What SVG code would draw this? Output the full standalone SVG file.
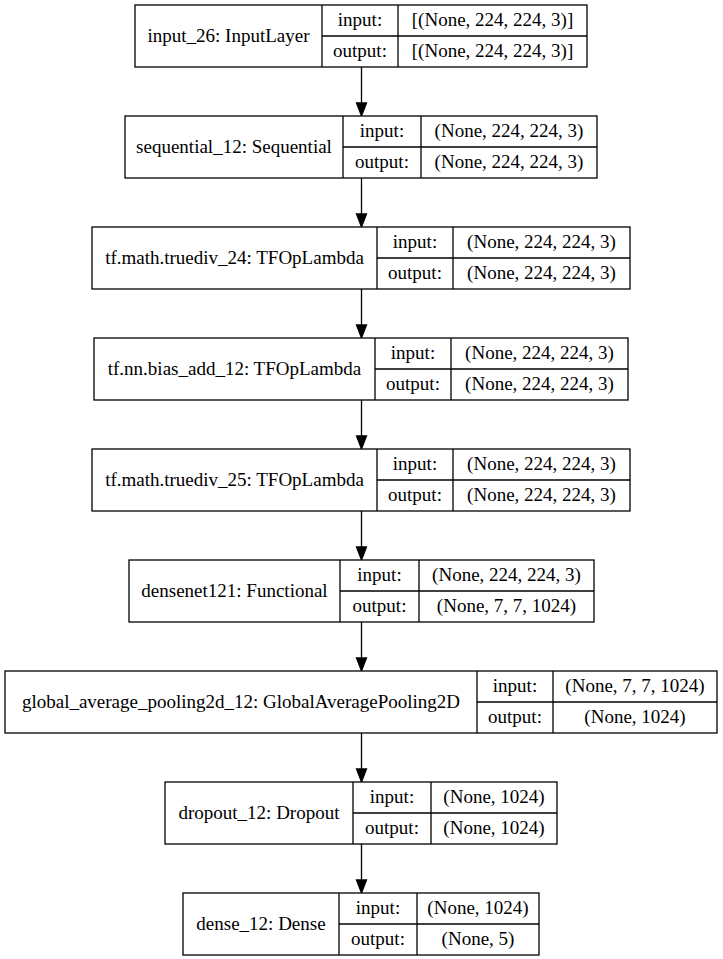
<svg xmlns="http://www.w3.org/2000/svg" width="723" height="959" viewBox="0 0 723 959">
<style>
rect{fill:#fff;stroke:#000;stroke-width:1.3}
.d{stroke:#000;stroke-width:1.3}
text{font-family:"Liberation Serif","Times New Roman",serif;font-size:19px;fill:#000;text-anchor:middle}
.e{stroke:#000;stroke-width:1.3;fill:none}
.h{fill:#000;stroke:#000;stroke-width:1.3}
</style>
<rect x="0" y="0" width="723" height="959" style="stroke:none"/>
<g id="connectors">
<line class="e" x1="361.5" y1="67" x2="361.5" y2="103"/><polygon class="h" points="356.5,103 366.5,103 361.5,116"/>
<line class="e" x1="361.5" y1="178" x2="361.5" y2="214"/><polygon class="h" points="356.5,214 366.5,214 361.5,227"/>
<line class="e" x1="361.5" y1="289" x2="361.5" y2="325"/><polygon class="h" points="356.5,325 366.5,325 361.5,338"/>
<line class="e" x1="361.5" y1="400" x2="361.5" y2="436"/><polygon class="h" points="356.5,436 366.5,436 361.5,449"/>
<line class="e" x1="361.5" y1="511" x2="361.5" y2="547"/><polygon class="h" points="356.5,547 366.5,547 361.5,560"/>
<line class="e" x1="361.5" y1="622" x2="361.5" y2="658"/><polygon class="h" points="356.5,658 366.5,658 361.5,671"/>
<line class="e" x1="361.5" y1="733" x2="361.5" y2="769"/><polygon class="h" points="356.5,769 366.5,769 361.5,782"/>
<line class="e" x1="361.5" y1="844" x2="361.5" y2="880"/><polygon class="h" points="356.5,880 366.5,880 361.5,893"/>
</g>
<g id="input_26">
<rect x="135" y="5" width="452" height="62"/>
<line class="d" x1="322" y1="5" x2="322" y2="67"/><line class="d" x1="398" y1="5" x2="398" y2="67"/><line class="d" x1="322" y1="36" x2="587" y2="36"/>
<text x="228.5" y="42">input_26: InputLayer</text>
<text x="360" y="26">input:</text><text x="360" y="57">output:</text>
<text x="492.5" y="26">[(None, 224, 224, 3)]</text><text x="492.5" y="57">[(None, 224, 224, 3)]</text>
</g>
<g id="sequential_12">
<rect x="125" y="116" width="472" height="62"/>
<line class="d" x1="343" y1="116" x2="343" y2="178"/><line class="d" x1="421" y1="116" x2="421" y2="178"/><line class="d" x1="343" y1="147" x2="597" y2="147"/>
<text x="234" y="153">sequential_12: Sequential</text>
<text x="382" y="137">input:</text><text x="382" y="168">output:</text>
<text x="509" y="137">(None, 224, 224, 3)</text><text x="509" y="168">(None, 224, 224, 3)</text>
</g>
<g id="truediv_24">
<rect x="92" y="227" width="538" height="62"/>
<line class="d" x1="377" y1="227" x2="377" y2="289"/><line class="d" x1="453" y1="227" x2="453" y2="289"/><line class="d" x1="377" y1="258" x2="630" y2="258"/>
<text x="234.5" y="264">tf.math.truediv_24: TFOpLambda</text>
<text x="415" y="248">input:</text><text x="415" y="279">output:</text>
<text x="541.5" y="248">(None, 224, 224, 3)</text><text x="541.5" y="279">(None, 224, 224, 3)</text>
</g>
<g id="bias_add_12">
<rect x="94" y="338" width="534" height="62"/>
<line class="d" x1="375" y1="338" x2="375" y2="400"/><line class="d" x1="451" y1="338" x2="451" y2="400"/><line class="d" x1="375" y1="369" x2="628" y2="369"/>
<text x="234.5" y="375">tf.nn.bias_add_12: TFOpLambda</text>
<text x="413" y="359">input:</text><text x="413" y="390">output:</text>
<text x="539.5" y="359">(None, 224, 224, 3)</text><text x="539.5" y="390">(None, 224, 224, 3)</text>
</g>
<g id="truediv_25">
<rect x="92" y="449" width="538" height="62"/>
<line class="d" x1="377" y1="449" x2="377" y2="511"/><line class="d" x1="453" y1="449" x2="453" y2="511"/><line class="d" x1="377" y1="480" x2="630" y2="480"/>
<text x="234.5" y="486">tf.math.truediv_25: TFOpLambda</text>
<text x="415" y="470">input:</text><text x="415" y="501">output:</text>
<text x="541.5" y="470">(None, 224, 224, 3)</text><text x="541.5" y="501">(None, 224, 224, 3)</text>
</g>
<g id="densenet121">
<rect x="129" y="560" width="465" height="62"/>
<line class="d" x1="340" y1="560" x2="340" y2="622"/><line class="d" x1="419" y1="560" x2="419" y2="622"/><line class="d" x1="340" y1="591" x2="594" y2="591"/>
<text x="234.5" y="597">densenet121: Functional</text>
<text x="379.5" y="581">input:</text><text x="379.5" y="612">output:</text>
<text x="506.5" y="581">(None, 224, 224, 3)</text><text x="506.5" y="612">(None, 7, 7, 1024)</text>
</g>
<g id="global_average_pooling2d_12">
<rect x="5" y="671" width="712" height="62"/>
<line class="d" x1="477" y1="671" x2="477" y2="733"/><line class="d" x1="553" y1="671" x2="553" y2="733"/><line class="d" x1="477" y1="702" x2="717" y2="702"/>
<text x="241" y="708">global_average_pooling2d_12: GlobalAveragePooling2D</text>
<text x="515" y="692">input:</text><text x="515" y="723">output:</text>
<text x="635" y="692">(None, 7, 7, 1024)</text><text x="635" y="723">(None, 1024)</text>
</g>
<g id="dropout_12">
<rect x="165" y="782" width="392" height="62"/>
<line class="d" x1="353" y1="782" x2="353" y2="844"/><line class="d" x1="431" y1="782" x2="431" y2="844"/><line class="d" x1="353" y1="813" x2="557" y2="813"/>
<text x="259" y="819">dropout_12: Dropout</text>
<text x="392" y="803">input:</text><text x="392" y="834">output:</text>
<text x="494" y="803">(None, 1024)</text><text x="494" y="834">(None, 1024)</text>
</g>
<g id="dense_12">
<rect x="183" y="893" width="356" height="62"/>
<line class="d" x1="339" y1="893" x2="339" y2="955"/><line class="d" x1="417" y1="893" x2="417" y2="955"/><line class="d" x1="339" y1="924" x2="539" y2="924"/>
<text x="261" y="930">dense_12: Dense</text>
<text x="378" y="914">input:</text><text x="378" y="945">output:</text>
<text x="478" y="914">(None, 1024)</text><text x="478" y="945">(None, 5)</text>
</g>
</svg>
